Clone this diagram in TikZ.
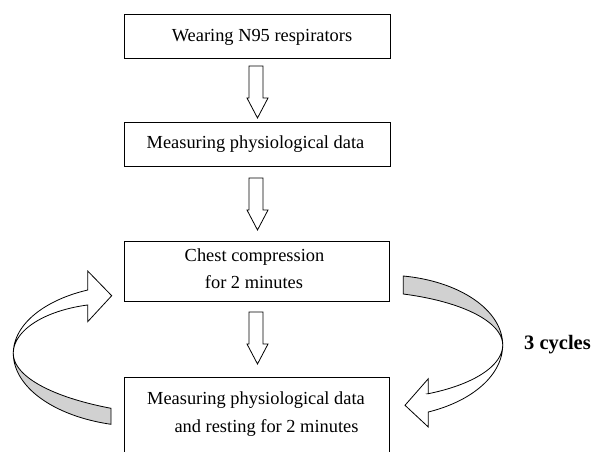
\documentclass[tikz,border=0pt]{standalone}
\usepackage{fontspec}
\setmainfont{Liberation Serif}
\definecolor{bandgray}{RGB}{209,209,209}
\begin{document}
\begin{tikzpicture}[x=1pt,y=-1pt,
  box/.style={draw=black, line width=0.9pt, rectangle, inner sep=0pt, outer sep=0pt},
  lbl/.style={font=\fontsize{18.4}{22}\selectfont, anchor=base, inner sep=0pt},
  blockarrow/.style={draw=black, fill=white, line width=0.8pt, line join=miter},
  ribbon/.style={draw=black, line width=0.8pt, line join=miter},
  downblock/.pic={\draw[blockarrow] (-8.5,0) -- (5.5,0) -- (5.5,32) -- (10.5,32) -- (0,52) -- (-10.5,32) -- (-8.5,32) -- cycle;}
]
\useasboundingbox (0,0) rectangle (595,451);
\fill[white] (0,0) rectangle (595,451);
\clip (0,0) rectangle (595,451);

% boxes
\node[box, minimum width=266.7pt, minimum height=44.7pt] (b1) at (257.35,36.35) {};
\node[box, minimum width=266.7pt, minimum height=44.4pt] (b2) at (257.35,144.5) {};
\node[box, minimum width=265pt, minimum height=60pt] (b3) at (256.5,271.7) {};
\node[box, minimum width=265.5pt, minimum height=92.3pt] (b4) at (256.75,423.85) {};

% texts
\node[lbl] (t1) at (262,41.7) {Wearing N95 respirators};
\node[lbl] (t2) at (255.5,148.3) {Measuring physiological data};
\node[lbl] (t3a) at (254.5,261.7) {Chest compression};
\node[lbl] (t3b) at (254,288.3) {for 2 minutes};
\node[lbl] (t4a) at (256,404) {Measuring physiological data};
\node[lbl] (t4b) at (266.5,432.7) {and resting for 2 minutes};
\node[lbl, anchor=base west, font=\fontsize{20.5}{24}\selectfont\bfseries] (cyc) at (524,349.5) {3 cycles};

% straight block arrows
\pic at (257.5,66) {downblock};
\pic at (257.5,178) {downblock};
\pic at (257.5,312) {downblock};

% left curved arrow: back side (gray)
\draw[ribbon, fill=bandgray]
  plot[domain=180:104.39, samples=40, variable=\t] ({143.3+130*cos(\t)},{353.3+73.3*sin(\t)})
  -- plot[domain=120.76:180, samples=40, variable=\t] ({213.3+200*cos(\t)},{353.3+64*sin(\t)})
  -- cycle;
% left curved arrow: front side with head
\draw[ribbon, fill=white]
  plot[domain=180:247.67, samples=40, variable=\t] ({133.3+120*cos(\t)},{353.3+68.43*sin(\t)})
  -- (87.7,271) -- (111.7,295.7) -- (87.7,321.7) -- (87.7,305)
  -- plot[domain=255.17:180, samples=40, variable=\t] ({113.3+100*cos(\t)},{353.3+50*sin(\t)})
  -- cycle;

% right curved arrow: back side (gray)
\draw[ribbon, fill=bandgray]
  plot[domain=0:-80.93, samples=40, variable=\t] ({384.7+118*cos(\t)},{345+69.87*sin(\t)})
  -- plot[domain=-70.3:0, samples=40, variable=\t] ({352.7+150*cos(\t)},{345+54.17*sin(\t)})
  -- cycle;
% right curved arrow: front side with head
\draw[ribbon, fill=white]
  plot[domain=0:67.67, samples=40, variable=\t] ({382.7+120*cos(\t)},{345+72.43*sin(\t)})
  -- (428.3,427) -- (405,405.3) -- (428.3,378.7) -- (428.3,393.7)
  -- plot[domain=63.33:0, samples=40, variable=\t] ({367.7+135*cos(\t)},{345+54.5*sin(\t)})
  -- cycle;
\end{tikzpicture}
\end{document}
